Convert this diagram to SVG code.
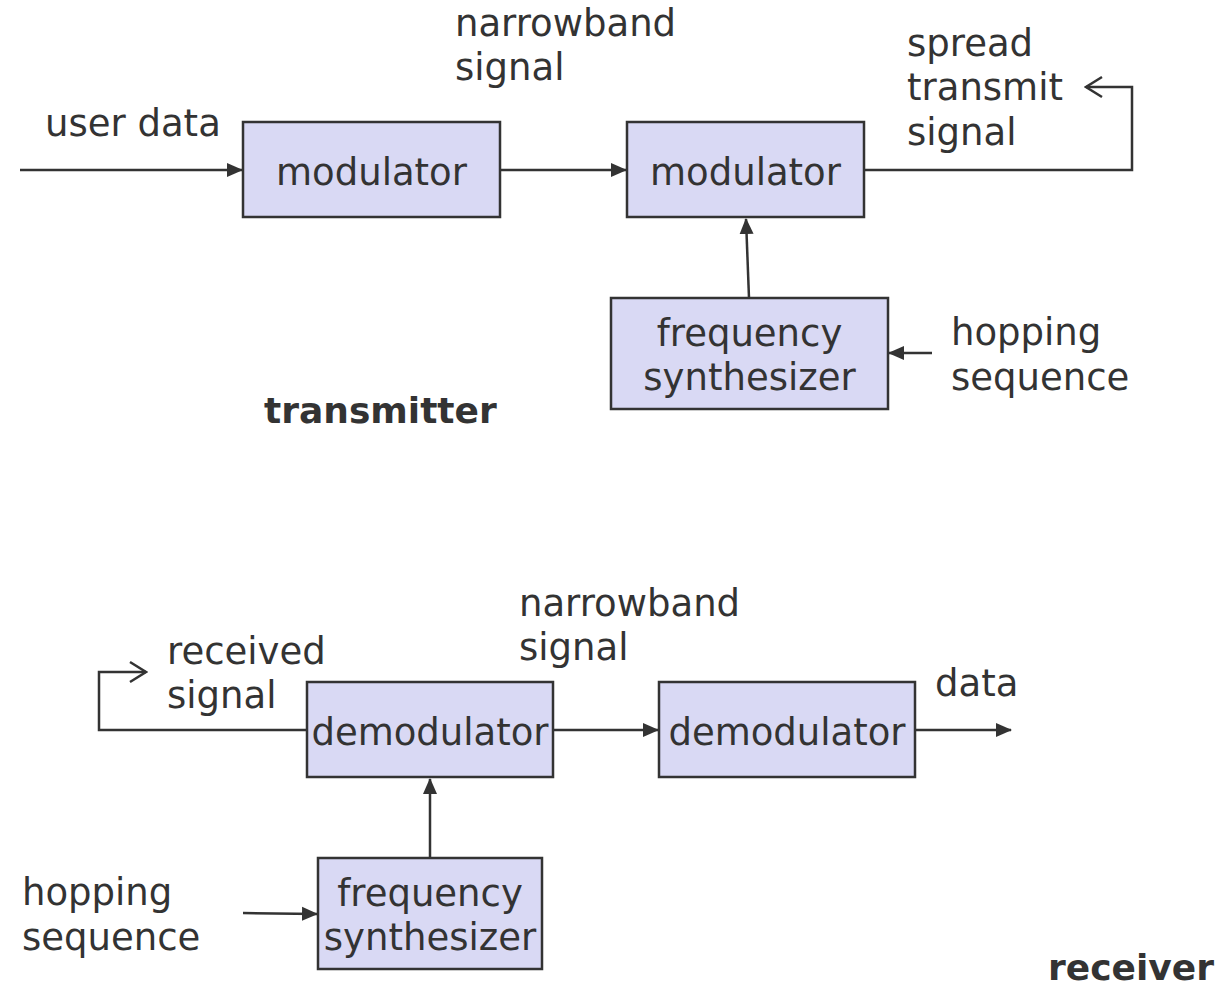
<svg xmlns="http://www.w3.org/2000/svg" width="1223" height="987" viewBox="0 0 1223 987">
<defs>
<marker id="ah" markerWidth="16" markerHeight="16" refX="15" refY="8" orient="auto" markerUnits="userSpaceOnUse">
<path d="M0,1 L16,8 L0,15 Z" fill="#333"/>
</marker>
<marker id="open" markerWidth="20" markerHeight="24" refX="18" refY="12" orient="auto" markerUnits="userSpaceOnUse">
<path d="M2,2 L18,12 L2,22" fill="none" stroke="#333" stroke-width="2.5"/>
</marker>
<style>
.box{fill:#d9d9f4;stroke:#333;stroke-width:2.5}
.t{font-family:"DejaVu Sans",Verdana,sans-serif;font-size:37px;fill:#333}
.c{text-anchor:middle}
.b{font-family:"DejaVu Sans",Verdana,sans-serif;font-size:36px;font-weight:bold;fill:#333}
.ln{fill:none;stroke:#333;stroke-width:2.5}
</style>
</defs>
<g id="connectors">
<line class="ln" x1="20" y1="170" x2="242" y2="170" marker-end="url(#ah)"/>
<line class="ln" x1="500" y1="170" x2="626" y2="170" marker-end="url(#ah)"/>
<polyline class="ln" points="864,170 1132,170 1132,87 1086,87" marker-end="url(#open)"/>
<line class="ln" x1="749" y1="298" x2="746" y2="219" marker-end="url(#ah)"/>
<line class="ln" x1="932" y1="353" x2="889" y2="353" marker-end="url(#ah)"/>
<polyline class="ln" points="307,730 99,730 99,672 146,672" marker-end="url(#open)"/>
<line class="ln" x1="553" y1="730" x2="658" y2="730" marker-end="url(#ah)"/>
<line class="ln" x1="915" y1="730" x2="1011" y2="730" marker-end="url(#ah)"/>
<line class="ln" x1="430" y1="858" x2="430" y2="779" marker-end="url(#ah)"/>
<line class="ln" x1="243" y1="913" x2="317" y2="914" marker-end="url(#ah)"/>
</g>
<g id="mod1">
<rect class="box" x="243" y="122" width="257" height="95"/>
<text class="t c" x="371.5" y="185">modulator</text>
</g>
<g id="mod2">
<rect class="box" x="627" y="122" width="237" height="95"/>
<text class="t c" x="745.5" y="185">modulator</text>
</g>
<g id="synth1">
<rect class="box" x="611" y="298" width="277" height="111"/>
<text class="t c" x="749.5" y="346">frequency</text>
<text class="t c" x="749.5" y="390">synthesizer</text>
</g>
<g id="demod1">
<rect class="box" x="307" y="682" width="246" height="95"/>
<text class="t c" x="430" y="745">demodulator</text>
</g>
<g id="demod2">
<rect class="box" x="659" y="682" width="256" height="95"/>
<text class="t c" x="787" y="745">demodulator</text>
</g>
<g id="synth2">
<rect class="box" x="318" y="858" width="224" height="111"/>
<text class="t c" x="430" y="906">frequency</text>
<text class="t c" x="430" y="950">synthesizer</text>
</g>
<g id="labels">
<text class="t" x="455" y="36">narrowband</text>
<text class="t" x="455" y="80">signal</text>
<text class="t" x="45" y="136">user data</text>
<text class="t" x="907" y="56">spread</text>
<text class="t" x="907" y="100">transmit</text>
<text class="t" x="907" y="145">signal</text>
<text class="t" x="951" y="345">hopping</text>
<text class="t" x="951" y="390">sequence</text>
<text class="b" x="264" y="423">transmitter</text>
<text class="t" x="519" y="616">narrowband</text>
<text class="t" x="519" y="660">signal</text>
<text class="t" x="167" y="664">received</text>
<text class="t" x="167" y="708">signal</text>
<text class="t" x="935" y="696">data</text>
<text class="t" x="22" y="905">hopping</text>
<text class="t" x="22" y="950">sequence</text>
<text class="b" x="1048" y="980">receiver</text>
</g>
</svg>
